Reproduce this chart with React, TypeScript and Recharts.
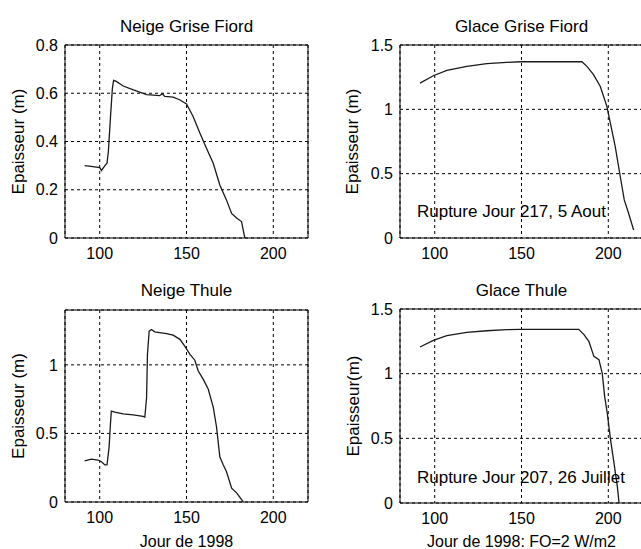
import React from 'react';
import { LineChart, Line, XAxis, YAxis, CartesianGrid, ReferenceArea, ReferenceDot } from 'recharts';

const FONT = '"Liberation Sans", Arial, Helvetica, sans-serif';

// Day-of-year ticks shared by all panels
const dayTicks = [100, 150, 200];
const dayDomain = [80, 220];

// Neige Grise Fiord
const snowGriseDays = [91.3, 95, 100, 101, 103, 104.2, 105, 106.2, 107.3, 108, 109.6, 113.5, 119, 127, 134.6, 136, 137.5, 142.3, 146, 150, 153.8, 157.7, 161.5, 165.4, 169.2, 173, 176, 179, 181.7, 183.6];
const snowGriseH = [0.3, 0.297, 0.292, 0.28, 0.3, 0.31, 0.36, 0.5, 0.62, 0.653, 0.649, 0.63, 0.615, 0.594, 0.59, 0.598, 0.587, 0.584, 0.573, 0.556, 0.504, 0.435, 0.372, 0.31, 0.22, 0.158, 0.102, 0.082, 0.068, 0];

// Glace Grise Fiord
const iceGriseDays = [91.5, 99.2, 107, 118.5, 130, 141.5, 149.2, 184.8, 187.7, 191.5, 195.4, 199.2, 201.2, 204, 206.9, 209.2, 211.7, 214.6];
const iceGriseH = [1.204, 1.261, 1.303, 1.334, 1.355, 1.365, 1.37, 1.37, 1.334, 1.269, 1.178, 1.023, 0.893, 0.711, 0.478, 0.296, 0.192, 0.062];

// Neige Thule
const snowThuleDays = [91.3, 95.2, 99, 101, 103, 104.2, 105.4, 106.2, 106.7, 108.7, 113.5, 119.3, 125, 126, 127, 127.5, 128.5, 129.8, 131.7, 138.5, 142.3, 146.2, 149, 152, 154.8, 156.7, 159.6, 162.5, 165.4, 167.3, 169.2, 171.2, 173, 176, 179, 182.7];
const snowThuleH = [0.299, 0.313, 0.306, 0.294, 0.27, 0.27, 0.4, 0.571, 0.663, 0.655, 0.643, 0.636, 0.624, 0.619, 0.76, 1.077, 1.246, 1.258, 1.241, 1.227, 1.217, 1.186, 1.137, 1.077, 1.034, 0.957, 0.896, 0.824, 0.692, 0.547, 0.33, 0.27, 0.222, 0.101, 0.065, 0];

// Glace Thule
const iceThuleDays = [91.5, 99.2, 107, 118.5, 130, 141.6, 149.3, 183, 186, 188.8, 191.7, 194.6, 196.5, 197.9, 199.4, 201.3, 203.3, 205.2, 206.2];
const iceThuleH = [1.206, 1.258, 1.294, 1.32, 1.332, 1.34, 1.343, 1.343, 1.302, 1.25, 1.134, 1.108, 1.005, 0.825, 0.696, 0.49, 0.309, 0.129, 0];

const snowTicksGrise = [0, 0.2, 0.4, 0.6, 0.8];
const iceTicks = [0, 0.5, 1, 1.5];
const snowTicksThule = [0, 0.5, 1];

const toData = (days: number[], h: number[]) => days.map((d, i) => ({ day: d, h: h[i] }));

type PanelProps = {
  left: number; top: number; width: number; height: number;
  margin: { top: number; right: number; bottom: number; left: number };
  yAxisWidth: number; xAxisHeight: number;
  data: { day: number; h: number }[];
  yDomain: number[]; yTicks: number[];
  title: string; titleOffset: number;
  yLabel: string; yLabelOffset: number;
  xLabel?: string;
  note?: { text: string; day: number; h: number };
};

function Panel(p: PanelProps) {
  return (
    <div style={{ position: 'absolute', left: p.left, top: p.top }}>
      <LineChart width={p.width} height={p.height} margin={p.margin} style={{ fontFamily: FONT }}>
        <CartesianGrid stroke="#000" strokeDasharray="3 3" strokeWidth={1} fill="none" />
        <XAxis
          type="number" dataKey="day" domain={dayDomain} ticks={dayTicks} interval={0}
          allowDataOverflow tickLine={false} axisLine={false} tickSize={0} tickMargin={10}
          height={p.xAxisHeight} tick={{ fill: '#000', fontSize: 16 }}
          label={p.xLabel ? { value: p.xLabel, position: 'insideBottom', offset: 0, fontSize: 16, fill: '#000' } : undefined}
        />
        <YAxis
          type="number" domain={p.yDomain} ticks={p.yTicks} interval={0} allowDataOverflow
          tickLine={false} axisLine={false} tickSize={0} tickMargin={7} width={p.yAxisWidth}
          tick={{ fill: '#000', fontSize: 16 }}
          label={{ value: p.yLabel, angle: -90, position: 'insideLeft', offset: p.yLabelOffset, fontSize: 17, fill: '#000', style: { textAnchor: 'middle' } }}
        />
        <ReferenceArea
          x1={dayDomain[0]} x2={dayDomain[1]} y1={p.yDomain[0]} y2={p.yDomain[1]}
          fill="none" fillOpacity={0} stroke="#000" strokeWidth={1}
          label={{ value: p.title, position: 'top', offset: p.titleOffset, fontSize: 17, fill: '#000' }}
        />
        {p.note && (
          <ReferenceDot
            x={p.note.day} y={p.note.h} r={1} fill="none" stroke="none"
            label={{ value: p.note.text, position: 'right', offset: 0, fontSize: 17, fill: '#000' }}
          />
        )}
        <Line data={p.data} dataKey="h" type="linear" stroke="#1a1a1a" strokeWidth={1.3} dot={false} isAnimationActive={false} />
      </LineChart>
    </div>
  );
}

export default function App() {
  return (
    <div style={{ position: 'absolute', left: 0, top: 0, width: 641, height: 549, overflow: 'hidden', background: '#fff' }}>
      <Panel
        left={0} top={0} width={330} height={270}
        margin={{ top: 45, right: 22, bottom: 2, left: 0 }} yAxisWidth={65} xAxisHeight={30}
        data={toData(snowGriseDays, snowGriseH)} yDomain={[0, 0.8]} yTicks={snowTicksGrise}
        title="Neige Grise Fiord" titleOffset={13} yLabel="Epaisseur (m)" yLabelOffset={18}
      />
      <Panel
        left={320} top={0} width={330} height={270}
        margin={{ top: 45, right: 7, bottom: 2, left: 0 }} yAxisWidth={80} xAxisHeight={30}
        data={toData(iceGriseDays, iceGriseH)} yDomain={[0, 1.5]} yTicks={iceTicks}
        title="Glace Grise Fiord" titleOffset={13} yLabel="Epaisseur (m)" yLabelOffset={32}
        note={{ text: 'Rupture Jour 217, 5 Aout', day: 89.2, h: 0.21 }}
      />
      <Panel
        left={0} top={270} width={330} height={279}
        margin={{ top: 40, right: 22, bottom: 2, left: 0 }} yAxisWidth={65} xAxisHeight={45}
        data={toData(snowThuleDays, snowThuleH)} yDomain={[0, 1.4]} yTicks={snowTicksThule}
        title="Neige Thule" titleOffset={14} yLabel="Epaisseur (m)" yLabelOffset={18}
        xLabel="Jour de 1998"
      />
      <Panel
        left={320} top={270} width={330} height={279}
        margin={{ top: 39, right: 7, bottom: 2, left: 0 }} yAxisWidth={80} xAxisHeight={44}
        data={toData(iceThuleDays, iceThuleH)} yDomain={[0, 1.5]} yTicks={iceTicks}
        title="Glace Thule" titleOffset={13} yLabel="Epaisseur(m)" yLabelOffset={33}
        xLabel="Jour de 1998: FO=2 W/m2"
        note={{ text: 'Rupture Jour 207, 26 Juillet', day: 89.2, h: 0.2 }}
      />
    </div>
  );
}
